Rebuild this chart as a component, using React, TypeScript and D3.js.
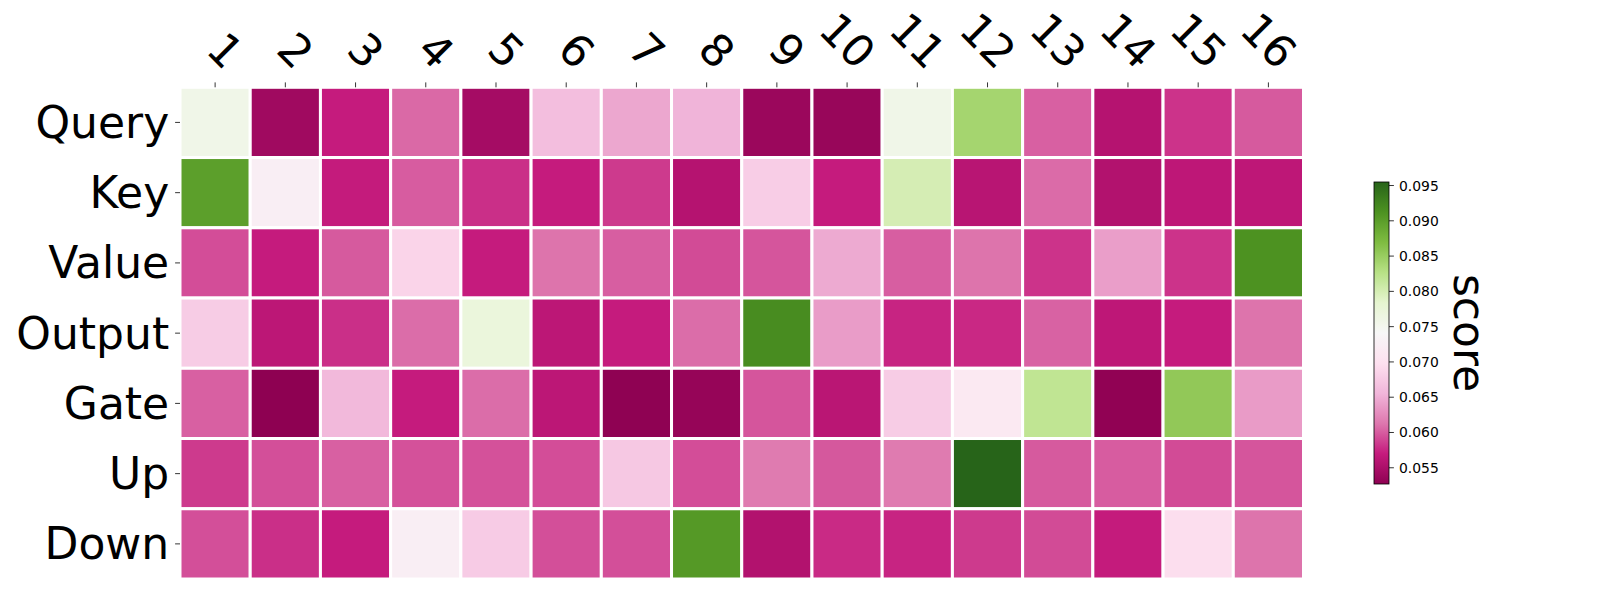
import React from 'react';
import * as d3 from 'd3';

const rowLabels = ['Query', 'Key', 'Value', 'Output', 'Gate', 'Up', 'Down'];
const colLabels = ['1', '2', '3', '4', '5', '6', '7', '8', '9', '10', '11', '12', '13', '14', '15', '16'];

const query = [0.0758, 0.0541, 0.0570, 0.0606, 0.0545, 0.0664, 0.0645, 0.0654, 0.0537, 0.0535, 0.0758, 0.0841, 0.0602, 0.0557, 0.0581, 0.0599];
const key = [0.0899, 0.0724, 0.0569, 0.0600, 0.0579, 0.0570, 0.0584, 0.0557, 0.0679, 0.0570, 0.0800, 0.0560, 0.0607, 0.0555, 0.0564, 0.0564];
const value = [0.0593, 0.0570, 0.0599, 0.0686, 0.0570, 0.0611, 0.0601, 0.0592, 0.0597, 0.0647, 0.0601, 0.0611, 0.0581, 0.0639, 0.0581, 0.0912];
const output = [0.0678, 0.0563, 0.0579, 0.0608, 0.0771, 0.0563, 0.0570, 0.0608, 0.0918, 0.0638, 0.0574, 0.0576, 0.0603, 0.0564, 0.0570, 0.0611];
const gate = [0.0602, 0.0527, 0.0658, 0.0570, 0.0608, 0.0563, 0.0528, 0.0533, 0.0597, 0.0561, 0.0678, 0.0715, 0.0819, 0.0529, 0.0855, 0.0637];
const up = [0.0584, 0.0594, 0.0602, 0.0595, 0.0595, 0.0593, 0.0674, 0.0593, 0.0615, 0.0598, 0.0615, 0.0955, 0.0599, 0.0600, 0.0592, 0.0597];
const down = [0.0594, 0.0579, 0.0570, 0.0724, 0.0677, 0.0594, 0.0594, 0.0905, 0.0555, 0.0577, 0.0574, 0.0584, 0.0592, 0.0569, 0.0696, 0.0611];

const matrix = [query, key, value, output, gate, up, down];
const cbarTicks = [0.055, 0.06, 0.065, 0.07, 0.075, 0.08, 0.085, 0.09, 0.095];

// matplotlib PiYG control colours
const piyg = ['#8e0152', '#c51b7d', '#de77ae', '#f1b6da', '#fde0ef', '#f7f7f7', '#e6f5d0', '#b8e186', '#7fbc41', '#4d9221', '#276419'];

const font = 'DejaVu Sans, sans-serif';

export default function App() {
  const all = matrix.flat();
  const [vmin, vmax] = d3.extent(all) as [number, number];

  const cmap = d3.scaleLinear<string>()
    .domain(d3.range(11).map(i => i / 10))
    .range(piyg)
    .interpolate(d3.interpolateRgb)
    .clamp(true);
  const norm = d3.scaleLinear().domain([vmin, vmax]).range([0, 1]);
  const color = (v: number) => cmap(norm(v));

  const left = 180, right = 1303.5, top = 87.3, bottom = 579;
  const x = d3.scaleBand().domain(colLabels).range([left, right]);
  const y = d3.scaleBand().domain(rowLabels).range([top, bottom]);

  const fs = 44;
  const tickLen = 4.9;
  const xLabelAnchor = 76.3; // labels end here, rotated -45 (ha right, anchored)

  // colorbar
  const cbX = 1374, cbW = 15, cbTop = 182, cbBottom = 484;
  const cy = d3.scaleLinear().domain([vmin, vmax]).range([cbBottom, cbTop]);
  const stops = d3.range(0, 1.0001, 0.02);

  return (
    <svg width={1600} height={600} style={{ position: 'absolute', left: 0, top: 0, background: '#fff' }}>
      <defs>
        <linearGradient id="cbar" x1="0" y1="1" x2="0" y2="0">
          {stops.map(s => (
            <stop key={s} offset={s} stopColor={cmap(s)} />
          ))}
        </linearGradient>
      </defs>

      {matrix.map((row, i) =>
        row.map((v, j) => (
          <rect
            key={`${i}-${j}`}
            x={x(colLabels[j])}
            y={y(rowLabels[i])}
            width={x.bandwidth()}
            height={y.bandwidth()}
            fill={color(v)}
            stroke="#fff"
            strokeWidth={3}
          />
        ))
      )}

      {/* y axis */}
      {rowLabels.map(r => {
        const yy = (y(r) as number) + y.bandwidth() / 2;
        return (
          <g key={r}>
            <line x1={left - tickLen} x2={left} y1={yy} y2={yy} stroke="#000" strokeWidth={0.8} />
            <text x={left - 2 * tickLen - 1} y={yy} textAnchor="end" dominantBaseline="central"
              fontFamily={font} fontSize={fs}>{r}</text>
          </g>
        );
      })}

      {/* x axis on top, rotated labels */}
      {colLabels.map(c => {
        const xx = (x(c) as number) + x.bandwidth() / 2;
        return (
          <g key={c}>
            <line x1={xx} x2={xx} y1={top - tickLen} y2={top} stroke="#000" strokeWidth={0.8} />
            <text transform={`translate(${xx},${xLabelAnchor}) rotate(45)`} x={3} y={-0.23 * fs}
              textAnchor="end" fontFamily={font} fontSize={fs}>{c}</text>
          </g>
        );
      })}

      {/* colorbar */}
      <rect x={cbX} y={cbTop} width={cbW} height={cbBottom - cbTop} fill="url(#cbar)" stroke="#000" strokeWidth={0.8} />
      {cbarTicks.map(t => (
        <g key={t}>
          <line x1={cbX + cbW} x2={cbX + cbW + 4.9} y1={cy(t)} y2={cy(t)} stroke="#000" strokeWidth={0.8} />
          <text x={cbX + cbW + 10} y={cy(t)} dominantBaseline="central" fontFamily={font} fontSize={13.9}>
            {t.toFixed(3)}
          </text>
        </g>
      ))}
      <text transform={`translate(1469,${(cbTop + cbBottom) / 2}) rotate(90)`} textAnchor="middle"
        dominantBaseline="central" fontFamily={font} fontSize={fs}>score</text>
    </svg>
  );
}
